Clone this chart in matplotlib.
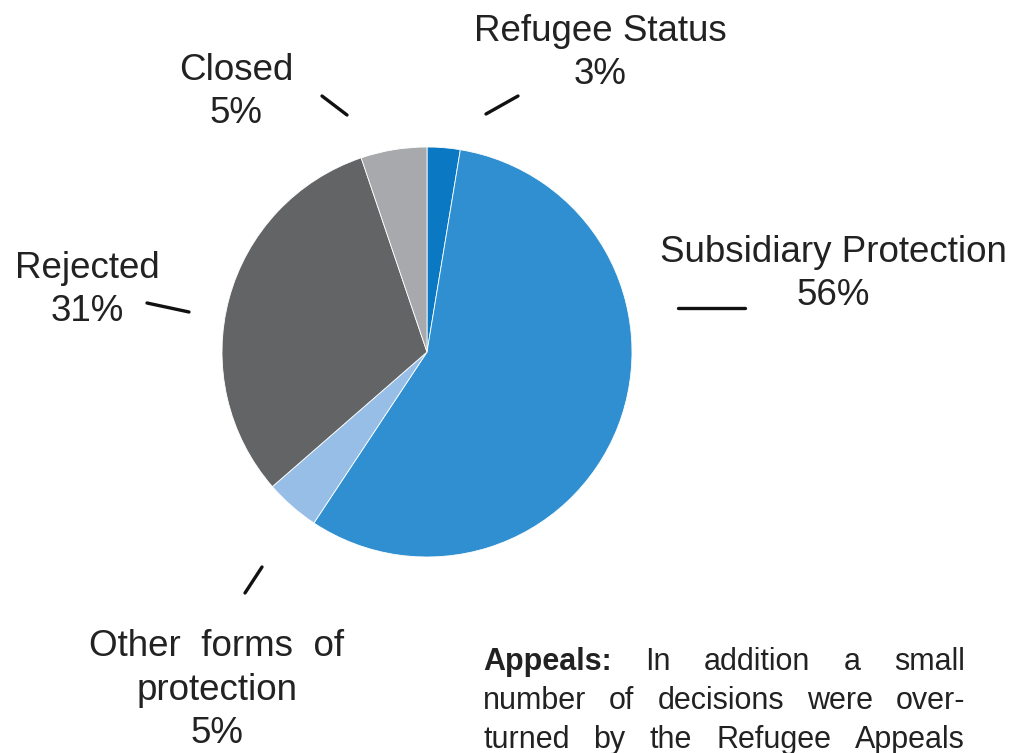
import matplotlib
matplotlib.use("Agg")
import matplotlib.pyplot as plt

# Дані діаграми (за годинниковою стрілкою від верху)
categories = ["Refugee Status", "Subsidiary Protection", "Other  forms  of\nprotection",
              "Rejected", "Closed"]
shares = [2.6, 56.7, 4.3, 31.2, 5.2]
pct_labels = ["3%", "56%", "5%", "31%", "5%"]
colors = ["#0a78c2", "#2f8fd0", "#97bee6", "#636466", "#a7a9ac"]

appeals_lines = [
    ["Appeals:", "In", "addition", "a", "small"],
    ["number", "of", "decisions", "were", "over-"],
    ["turned", "by", "the", "Refugee", "Appeals"],
]

W, H = 1016, 753
plt.rcParams['font.family'] = ['Liberation Sans', 'DejaVu Sans']

fig = plt.figure(figsize=(W / 100, H / 100), dpi=100)
ax = fig.add_axes([0, 0, 1, 1])
ax.set_xlim(0, W)
ax.set_ylim(0, H)
ax.axis("off")


def py(y):
    # піксельна координата зверху -> координата осі
    return H - y


ax.pie(shares, colors=colors, startangle=90, counterclock=False,
       center=(427, py(352)), radius=205,
       wedgeprops=dict(edgecolor="white", linewidth=0.6))
ax.set_xlim(0, W)
ax.set_ylim(0, H)
ax.set_aspect("equal")

# Підписи та виносні лінії
label_pos = [(600, 53), (833, 274), (217, 690), (87, 290), (236, 92)]
leader = [((486, 114), (518, 96)), ((678, 308), (745, 308)),
          ((245, 593), (262, 567)), ((147, 303), (189, 312)),
          ((322, 96), (347, 115))]
fs = 26.5
for name, pct, (x, y), (p1, p2) in zip(categories, pct_labels, label_pos, leader):
    ax.text(x, py(y), name + "\n" + pct, ha="center", va="center",
            fontsize=fs, color="#222222", linespacing=1.32)
    ax.plot([p1[0], p2[0]], [py(p1[1]), py(p2[1])], color="#111111",
            lw=2.4, solid_capstyle="round")

# Текст про апеляції з вирівнюванням по ширині
left, right = 483, 965
line_y = [662, 701, 740]
fig.canvas.draw()
renderer = fig.canvas.get_renderer()
afs = 22
for words, y in zip(appeals_lines, line_y):
    items = []
    for i, w in enumerate(words):
        bold = (w == "Appeals:")
        t = ax.text(0, py(y), w, fontsize=afs, color="#222222",
                    fontweight="bold" if bold else "normal", va="center", ha="left")
        items.append(t)
    widths = [t.get_window_extent(renderer).width for t in items]
    gap = (right - left - sum(widths)) / (len(items) - 1)
    x = left
    for t, wd in zip(items, widths):
        t.set_x(x)
        x += wd + gap

fig.savefig("out.png", dpi=100)
